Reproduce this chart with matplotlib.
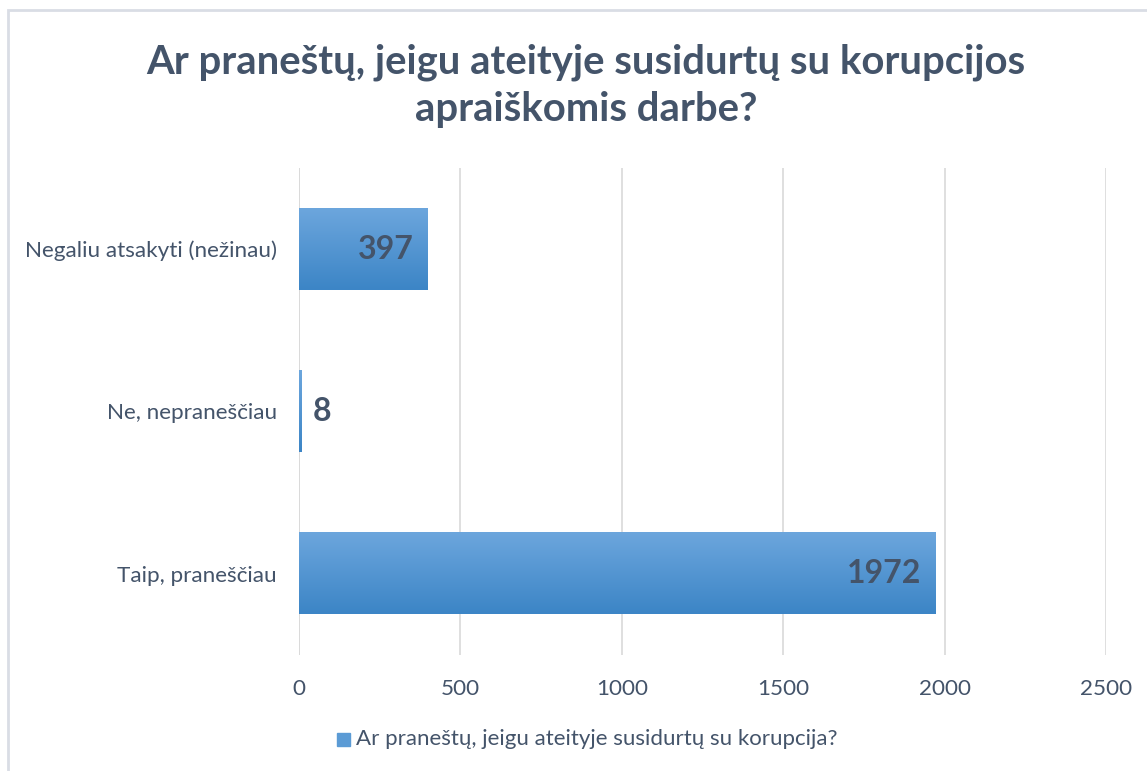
import matplotlib
matplotlib.use("Agg")
import matplotlib.pyplot as plt
import numpy as np
from matplotlib.patches import Rectangle
from matplotlib.colors import LinearSegmentedColormap

categories = ["Taip, praneščiau", "Ne, nepraneščiau", "Negaliu atsakyti (nežinau)"]
values = [1972, 8, 397]
x_ticks = [0, 500, 1000, 1500, 2000, 2500]
title = "Ar praneštų, jeigu ateityje susidurtų su korupcijos\napraiškomis darbe?"
series_name = "Ar praneštų, jeigu ateityje susidurtų su korupcija?"

TEXT = "#44546A"
GRID = "#D9D9D9"
FONT = ["Lato", "DejaVu Sans"]
plt.rcParams["font.family"] = FONT

fig = plt.figure(figsize=(11.47, 7.71), dpi=100)
ax = fig.add_axes([0.2607, 0.1505, 0.7036, 0.6316])

# outer chart border
fig.patches.append(Rectangle((8 / 1147, -0.05), 1.1, 1 - 10 / 771 + 0.05,
                             transform=fig.transFigure, fill=False,
                             edgecolor="#D9DDE5", linewidth=2))

y = np.arange(len(categories))
bars = ax.barh(y, values, height=0.5, color="#5B9BD5", zorder=2)

# gradient fill for each bar
cmap = LinearSegmentedColormap.from_list("bar", ["#3C85C6", "#6CA6DD"])
grad = np.linspace(0, 1, 100).reshape(-1, 1)
for b in bars:
    x0, y0 = b.get_x(), b.get_y()
    w, h = b.get_width(), b.get_height()
    ax.imshow(grad, extent=[x0, x0 + w, y0, y0 + h], origin="lower",
              cmap=cmap, aspect="auto", zorder=3)
    b.set_visible(False)

for i, v in enumerate(values):
    if v > 200:
        ax.annotate(str(v), (v, i), xytext=(-10, 0), textcoords="offset points",
                    ha="right", va="center", fontsize=23, fontweight="bold",
                    color=TEXT, zorder=4)
    else:
        ax.annotate(str(v), (v, i), xytext=(8, 0), textcoords="offset points",
                    ha="left", va="center", fontsize=23, fontweight="bold",
                    color=TEXT, zorder=4)

ax.set_xlim(0, 2500)
ax.set_ylim(-0.5, len(categories) - 0.5)
ax.set_xticks(x_ticks)
ax.set_xticklabels([str(t) for t in x_ticks])
ax.set_yticks(y)
ax.set_yticklabels(categories)
ax.tick_params(axis="both", length=0, labelsize=16.2, labelcolor=TEXT)
ax.tick_params(axis="x", pad=17)
ax.tick_params(axis="y", pad=16)
ax.grid(axis="x", color=GRID, linewidth=1.2, zorder=0)
for s in ax.spines.values():
    s.set_visible(False)
ax.axvline(0, color=GRID, linewidth=1.2, zorder=1)

fig.text(0.511, 1 - 86 / 771, title, ha="center", va="center", fontsize=28.8,
         fontweight="bold", color=TEXT, linespacing=1.32)

# legend
fig.patches.append(Rectangle((337 / 1147, 1 - 746 / 771), 13 / 1147, 13 / 771,
                             transform=fig.transFigure, color="#5B9BD5"))
fig.text(356 / 1147, 1 - 739 / 771, series_name, ha="left", va="center",
         fontsize=16, color=TEXT)

fig.savefig("out.png", dpi=100)
